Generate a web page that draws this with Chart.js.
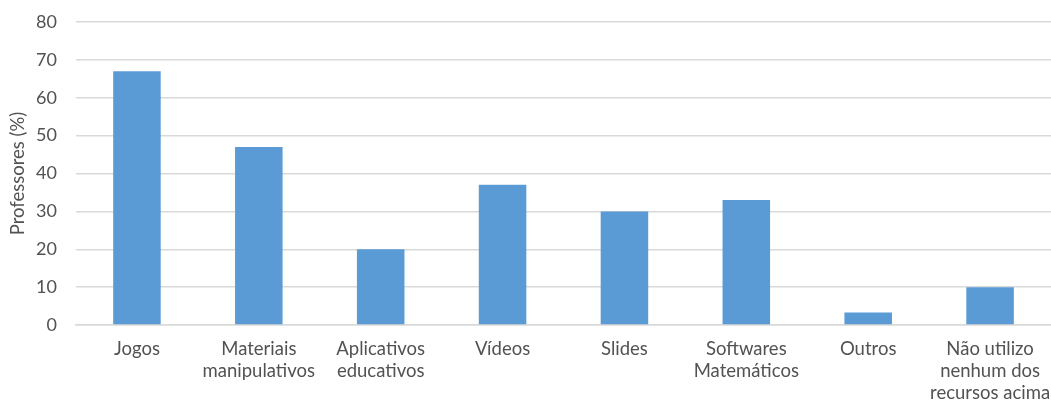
<!DOCTYPE html>
<html>
<head>
<meta charset="utf-8">
<title>Recursos utilizados pelos professores</title>
<script src="https://cdn.jsdelivr.net/npm/chart.js@4"></script>
<style>
    html, body { margin: 0; padding: 0; background: #fff; }
    #wrap { width: 1051px; height: 405px; }
</style>
</head>
<body>
<div id="wrap"><canvas id="chartCanvas"></canvas></div>
<script>
// Data
var categories = [
    'Jogos',
    ['Materiais', 'manipulativos'],
    ['Aplicativos', 'educativos'],
    'Vídeos',
    'Slides',
    ['Softwares', 'Matemáticos'],
    'Outros',
    ['Não utilizo', 'nenhum dos', 'recursos acima']
];
var professores = [67, 47, 20, 37, 30, 33, 3.3, 10];
var yTicks = [0, 10, 20, 30, 40, 50, 60, 70, 80];

var textColor = '#525252';
var gridColor = '#d9d9d9';
var barColor = '#5b9bd5';

Chart.defaults.font.family = 'Lato, "Open Sans", sans-serif';
Chart.defaults.font.size = 18;
Chart.defaults.color = textColor;

function drawGraph(chartContextId, chartType, chartData) {
    var ctx = document.getElementById(chartContextId);

    var chart = new Chart(ctx, {
        type: chartType,
        data: chartData,
        options: {
            responsive: true,
            maintainAspectRatio: false,
            animation: false,
            layout: { padding: { top: 22, right: 0, bottom: 0, left: 0 } },
            plugins: {
                legend: { display: false },
                tooltip: { enabled: false }
            },
            scales: {
                x: {
                    grid: { display: false, drawTicks: false },
                    border: { display: true, color: gridColor, width: 1.5 },
                    ticks: {
                        padding: 13,
                        maxRotation: 0,
                        autoSkip: false,
                        font: { size: 18.5, lineHeight: 1.18 }
                    },
                    afterFit: function (scale) {
                        // the long last label may run to the edge, don't shrink the plot for it
                        scale.height = 80;
                        scale.paddingLeft = 0;
                        scale.paddingRight = 0;
                    }
                },
                y: {
                    min: 0,
                    max: 80,
                    afterBuildTicks: function (scale) {
                        scale.ticks = yTicks.map(function (v) { return { value: v }; });
                    },
                    grid: { color: gridColor, lineWidth: 1.5, drawTicks: false },
                    border: { display: false },
                    ticks: { padding: 19, font: { size: 18 } },
                    title: {
                        display: true,
                        text: 'Professores (%)',
                        color: textColor,
                        font: { size: 18.5 },
                        padding: { top: 7, bottom: 0 }
                    },
                    afterFit: function (scale) {
                        scale.width = 76;
                        scale.paddingTop = 0;
                        scale.paddingBottom = 0;
                    }
                }
            }
        }
    });
    return chart;
}

drawGraph('chartCanvas', 'bar', {
    labels: categories,
    datasets: [{
        label: 'Professores (%)',
        data: professores,
        backgroundColor: barColor,
        borderWidth: 0,
        categoryPercentage: 1,
        barPercentage: 0.39
    }]
});
</script>
</body>
</html>
